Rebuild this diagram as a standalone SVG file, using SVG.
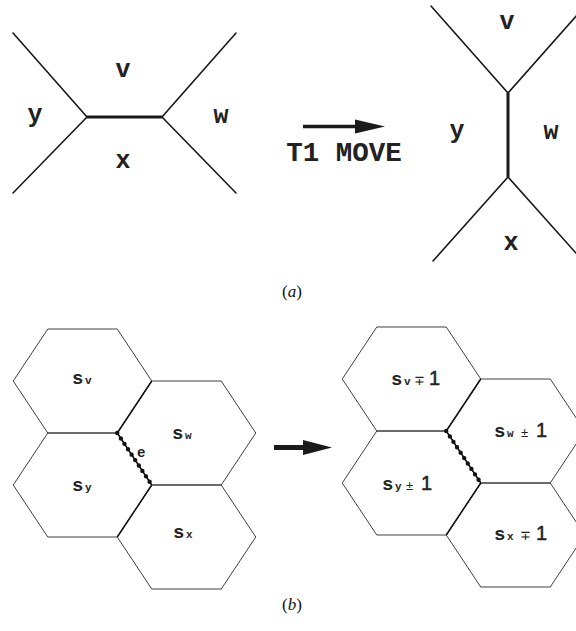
<svg xmlns="http://www.w3.org/2000/svg" xmlns:xlink="http://www.w3.org/1999/xlink" width="576" height="631" viewBox="0 0 576 631">
<style>
.ln{stroke:#1a1a1a;stroke-width:1.6;fill:none;stroke-linecap:round}
.thk{stroke:#1a1a1a;stroke-width:3;fill:none}
.hex{stroke:#2a2a2a;stroke-width:0.9;fill:none}
.hd{stroke:#111;stroke-width:1.5;fill:none}
.bead{stroke:#111;stroke-width:1.4;fill:none}
.dots{stroke:#111;stroke-width:4.4;fill:none;stroke-linecap:round;stroke-dasharray:0 6.5}
.lab{font-family:"Liberation Mono","Courier New",monospace;font-weight:bold;font-size:25px;fill:#222;text-anchor:middle}
.mv{font-family:"Liberation Mono","Courier New",monospace;font-weight:bold;font-size:27.5px;fill:#222;text-anchor:middle}
.s{font-family:"Liberation Mono","Courier New",monospace;font-weight:bold;font-size:19px;fill:#222}
.sub{font-family:"Liberation Mono","Courier New",monospace;font-weight:bold;font-size:11px;fill:#222}
.pm{font-family:"Liberation Sans",Arial,sans-serif;font-size:13px;fill:#222}
.one{font-family:"Liberation Sans",Arial,sans-serif;font-size:20px;fill:#222;stroke:#222;stroke-width:0.5}
.cap{font-family:"Liberation Serif","Times New Roman",serif;font-size:17px;fill:#111;text-anchor:middle}
</style>
<defs>
<polygon id="hexp" points="-69.25,0 -34.75,-52 34.75,-52 69.25,0 34.75,52 -34.75,52"/>
</defs>

<g id="a-before">
<path class="ln" d="M13,33 L87,117 L13,193 M236,33 L162,117 L236,193"/>
<path class="thk" d="M87,117 H162"/>
<text class="lab" x="123" y="77">v</text>
<text class="lab" x="35" y="122">y</text>
<text class="lab" x="221" y="123">w</text>
<text class="lab" x="123" y="168">x</text>
</g>

<g id="a-after">
<path class="ln" d="M431,6 L508,93 L585,6 M433,261 L508,177 L583,261"/>
<path class="thk" d="M508,93 V177"/>
<text class="lab" x="507" y="29">v</text>
<text class="lab" x="457" y="138">y</text>
<text class="lab" x="551" y="139">w</text>
<text class="lab" x="511" y="250">x</text>
</g>

<g id="connectors">
<line x1="303" y1="126.5" x2="358" y2="126.5" stroke="#1a1a1a" stroke-width="3.4"/>
<polygon points="355,119.5 385,126.5 355,133.5" fill="#1a1a1a"/>
<line x1="274" y1="447.5" x2="306" y2="447.5" stroke="#1a1a1a" stroke-width="5"/>
<polygon points="303,440 332,447.5 303,455" fill="#1a1a1a"/>
</g>
<text class="mv" x="344" y="161">T1 MOVE</text>
<text class="cap" x="292" y="297">(<tspan font-style="italic">a</tspan>)</text>

<g id="hex-sv">
<use href="#hexp" xlink:href="#hexp" class="hex" transform="translate(82.5,381)"/>
<text><tspan class="s" x="72" y="384">s</tspan><tspan class="sub" x="85" y="384">v</tspan></text>
</g>
<g id="hex-sw">
<use href="#hexp" xlink:href="#hexp" class="hex" transform="translate(186.5,433)"/>
<text><tspan class="s" x="172" y="439">s</tspan><tspan class="sub" x="185" y="439">w</tspan></text>
</g>
<g id="hex-sy">
<use href="#hexp" xlink:href="#hexp" class="hex" transform="translate(82.5,485)"/>
<text><tspan class="s" x="72" y="491">s</tspan><tspan class="sub" x="85" y="491">y</tspan></text>
</g>
<g id="hex-sx">
<use href="#hexp" xlink:href="#hexp" class="hex" transform="translate(186.5,537)"/>
<text><tspan class="s" x="173" y="538">s</tspan><tspan class="sub" x="186" y="538">x</tspan></text>
</g>
<g id="edge-left">
<path class="hd" d="M117.25,433 L151.75,381 M117.25,537 L151.75,485"/>
<path class="bead" d="M117.25,433 L151.75,485"/>
<path class="dots" d="M117.25,433 L151.75,485"/>
<text x="137" y="457" font-family="Liberation Mono, monospace" font-weight="bold" font-size="14" fill="#222">e</text>
</g>

<g id="hex-sv2">
<use href="#hexp" xlink:href="#hexp" class="hex" transform="translate(411.5,379)"/>
<text><tspan class="s" x="391" y="385">s</tspan><tspan class="sub" x="404" y="385">v</tspan><tspan class="pm" x="414" y="385">∓</tspan><tspan class="one" x="429" y="385">1</tspan></text>
</g>
<g id="hex-sw2">
<use href="#hexp" xlink:href="#hexp" class="hex" transform="translate(515.5,431)"/>
<text><tspan class="s" x="494" y="437">s</tspan><tspan class="sub" x="507" y="437">w</tspan><tspan class="pm" x="521" y="437">±</tspan><tspan class="one" x="536" y="437">1</tspan></text>
</g>
<g id="hex-sy2">
<use href="#hexp" xlink:href="#hexp" class="hex" transform="translate(411.5,483)"/>
<text><tspan class="s" x="382" y="490">s</tspan><tspan class="sub" x="395" y="490">y</tspan><tspan class="pm" x="406" y="490">±</tspan><tspan class="one" x="421" y="490">1</tspan></text>
</g>
<g id="hex-sx2">
<use href="#hexp" xlink:href="#hexp" class="hex" transform="translate(515.5,535)"/>
<text><tspan class="s" x="494" y="540">s</tspan><tspan class="sub" x="507" y="540">x</tspan><tspan class="pm" x="520" y="540">∓</tspan><tspan class="one" x="536" y="540">1</tspan></text>
</g>
<g id="edge-right">
<path class="hd" d="M446.25,431 L480.75,379 M446.25,535 L480.75,483"/>
<path class="bead" d="M446.25,431 L480.75,483"/>
<path class="dots" d="M446.25,431 L480.75,483"/>
</g>
<text class="cap" x="292" y="610">(<tspan font-style="italic">b</tspan>)</text>
</svg>
